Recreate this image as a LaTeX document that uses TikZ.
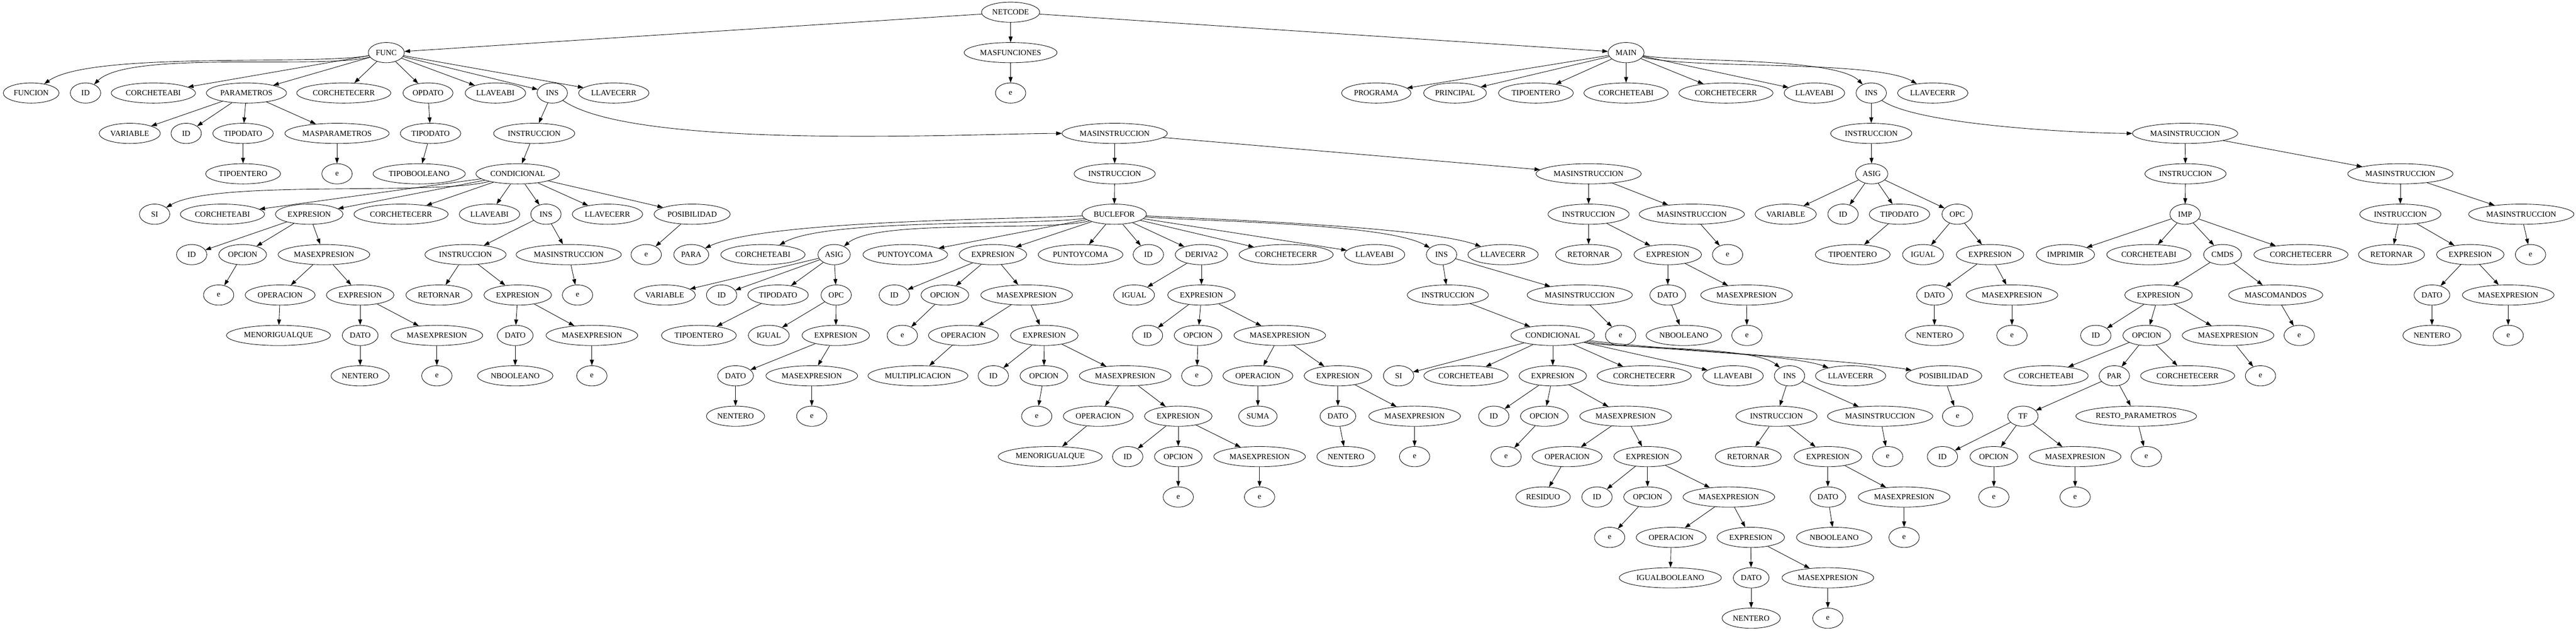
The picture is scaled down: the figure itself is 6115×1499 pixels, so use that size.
\documentclass[tikz,border=0pt]{standalone}
\usepackage{fontspec}
\setmainfont{Liberation Serif}
\usetikzlibrary{arrows.meta,shapes.geometric}
\tikzstyle{vertex}=[ellipse,draw,line width=0.8pt,minimum height=36pt,minimum width=54pt,inner xsep=4pt,inner ysep=2pt,font=\fontsize{14}{16}\selectfont]
\tikzstyle{link} = [draw,line width=0.8pt,-{Triangle[length=10pt,width=7pt]}]
\tikzstyle{curvedlink} = [link,looseness=0.45]

\begin{document}
\begin{tikzpicture}[x=0.75pt,y=-0.75pt]
    \useasboundingbox (0,0) rectangle (6115,1499);
    % Draw the parse tree, one row at a time
    % First we draw the vertices
    \foreach \x/\name/\label in {2399/netcode/NETCODE}
        \node[vertex] (\name) at (\x,29) {\label};
    \foreach \x/\name/\label in {917/func/FUNC, 2399/masfun/MASFUNCIONES, 3860/main/MAIN}
        \node[vertex] (\name) at (\x,125) {\label};
    \foreach \x/\name/\label in {74/fFuncion/FUNCION, 203/fId/ID, 364/fCa/CORCHETEABI, 585/fPar/PARAMETROS, 816/fCc/CORCHETECERR, 1016/fOp/OPDATO, 1176/fLa/LLAVEABI, 1311/fIns/INS, 1457/fLc/LLAVECERR, 2399/mfE/e, 3267/mProg/PROGRAMA, 3454/mPrin/PRINCIPAL, 3646/mTipo/TIPOENTERO, 3860/mCa/CORCHETEABI, 4097/mCc/CORCHETECERR, 4307/mLa/LLAVEABI, 4442/mIns/INS, 4588/mLc/LLAVECERR}
        \node[vertex] (\name) at (\x,221) {\label};
    \foreach \x/\name/\label in {308/pVar/VARIABLE, 442/pId/ID, 577/pTipo/TIPODATO, 800/pMas/MASPARAMETROS, 1022/oTipo/TIPODATO, 1268/fI/INSTRUCCION, 2646/fM/MASINSTRUCCION, 4442/mI/INSTRUCCION, 5187/mM/MASINSTRUCCION}
        \node[vertex] (\name) at (\x,317) {\label};
    \foreach \x/\name/\label in {577/pEnt/TIPOENTERO, 800/pE/e, 995/oBool/TIPOBOOLEANO, 1229/cond/CONDICIONAL, 2646/fMI/INSTRUCCION, 3771/fMM/MASINSTRUCCION, 4443/asig/ASIG, 5188/mMI/INSTRUCCION, 5698/mMM/MASINSTRUCCION}
        \node[vertex] (\name) at (\x,413) {\label};
    \foreach \x/\name/\label in {367/cSi/SI, 528/cCa/CORCHETEABI, 734/cExp/EXPRESION, 952/cCc/CORCHETECERR, 1162/cLa/LLAVEABI, 1296/cIns/INS, 1442/cLc/LLAVECERR, 1643/cPos/POSIBILIDAD, 2645/for/BUCLEFOR, 3771/fMMI/INSTRUCCION, 4016/fMMM/MASINSTRUCCION, 4239/aVar/VARIABLE, 4375/aId/ID, 4509/aTipo/TIPODATO, 4646/aOpc/OPC, 5187/imp/IMP, 5698/mMMI/INSTRUCCION, 5985/mMMM/MASINSTRUCCION}
        \node[vertex] (\name) at (\x,509) {\label};
    \foreach \x/\name/\label in {455/ceId/ID, 576/ceOpc/OPCION, 769/ceMas/MASEXPRESION, 1105/ciI/INSTRUCCION, 1350/ciM/MASINSTRUCCION, 1534/cpE/e, 1641/bPara/PARA, 1811/bCa/CORCHETEABI, 1980/bAsig/ASIG, 2149/bPyc/PUNTOYCOMA, 2357/bExp/EXPRESION, 2565/bPycb/PUNTOYCOMA, 2726/bId/ID, 2852/bDer/DERIVA2, 3053/bCc/CORCHETECERR, 3263/bLa/LLAVEABI, 3422/bIns/INS, 3568/bLc/LLAVECERR, 3771/rRet/RETORNAR, 3959/rExp/EXPRESION, 4101/rE/e, 4398/aEnt/TIPOENTERO, 4565/aIgual/IGUAL, 4724/aExp/EXPRESION, 4903/iImpr/IMPRIMIR, 5101/iCa/CORCHETEABI, 5276/cmds/CMDS, 5462/iCc/CORCHETECERR, 5677/sRet/RETORNAR, 5864/sExp/EXPRESION, 6007/sE/e}
        \node[vertex] (\name) at (\x,605) {\label};
    \foreach \x/\name/\label in {519/ceoE/e, 665/ceOp/OPERACION, 855/ceExp/EXPRESION, 1042/ciRet/RETORNAR, 1229/ciExp/EXPRESION, 1371/cmE/e, 1578/baVar/VARIABLE, 1713/baId/ID, 1847/baTipo/TIPODATO, 1985/baOpc/OPC, 2123/beId/ID, 2243/beOpc/OPCION, 2437/beMas/MASEXPRESION, 2692/bdIgual/IGUAL, 2852/bdExp/EXPRESION, 3437/biI/INSTRUCCION, 3750/biM/MASINSTRUCCION, 3959/reDato/DATO, 4146/reMas/MASEXPRESION, 4592/aeDato/DATO, 4776/aeMas/MASEXPRESION, 5124/xExp/EXPRESION, 5402/xMas/MASCOMANDOS, 5773/sDato/DATO, 5954/sMas/MASEXPRESION}
        \node[vertex] (\name) at (\x,701) {\label};
    \foreach \x/\name/\label in {661/ceMenor/MENORIGUALQUE, 855/ceDato/DATO, 1037/ceMasb/MASEXPRESION, 1223/ciDato/DATO, 1405/ciMas/MASEXPRESION, 1659/baEnt/TIPOENTERO, 1825/baIgual/IGUAL, 1984/baExp/EXPRESION, 2142/beoE/e, 2287/beOp/OPERACION, 2479/beExp/EXPRESION, 2724/bdId/ID, 2844/bdOpc/OPCION, 3038/bdMas/MASEXPRESION, 3686/bcond/CONDICIONAL, 3847/bmE/e, 3997/reBool/NBOOLEANO, 4147/reE/e, 4592/aeEnt/NENTERO, 4776/aeE/e, 4975/xId/ID, 5096/xOpc/OPCION, 5289/xMasb/MASEXPRESION, 5458/xmE/e, 5773/sEnt/NENTERO, 5954/sEb/e}
        \node[vertex] (\name) at (\x,797) {\label};
    \foreach \x/\name/\label in {855/ceEnt/NENTERO, 1037/ceE/e, 1223/ciBool/NBOOLEANO, 1405/ciE/e, 1746/baDato/DATO, 1927/baMas/MASEXPRESION, 2179/beMult/MULTIPLICACION, 2358/beIdb/ID, 2478/beOpcb/OPCION, 2671/beMasb/MASEXPRESION, 2841/bdoE/e, 2986/bdOp/OPERACION, 3176/bdExpb/EXPRESION, 3320/kSi/SI, 3480/kCa/CORCHETEABI, 3686/kExp/EXPRESION, 3903/kCc/CORCHETECERR, 4114/kLa/LLAVEABI, 4248/kIns/INS, 4393/kLc/LLAVECERR, 4614/kPos/POSIBILIDAD, 4857/oCa/CORCHETEABI, 5019/par/PAR, 5193/oCc/CORCHETECERR, 5366/xmEb/e}
        \node[vertex] (\name) at (\x,893) {\label};
    \foreach \x/\name/\label in {1746/baEntb/NENTERO, 1927/baE/e, 2461/beoEb/e, 2607/beOpb/OPERACION, 2797/beExpb/EXPRESION, 2986/bdSuma/SUMA, 3176/bdDato/DATO, 3358/bdMasb/MASEXPRESION, 3546/keId/ID, 3666/keOpc/OPCION, 3859/keMas/MASEXPRESION, 4217/kiI/INSTRUCCION, 4463/kiM/MASINSTRUCCION, 4647/kpE/e, 4802/tf/TF, 5071/resto/RESTO\_PARAMETROS}
        \node[vertex] (\name) at (\x,989) {\label};
    \foreach \x/\name/\label in {2493/beMenor/MENORIGUALQUE, 2677/beIdc/ID, 2797/beOpcc/OPCION, 2990/beMasc/MASEXPRESION, 3195/bdEnt/NENTERO, 3358/bdE/e, 3575/keoE/e, 3720/keOp/OPERACION, 3911/keExp/EXPRESION, 4150/kiRet/RETORNAR, 4339/kiExp/EXPRESION, 4481/kmE/e, 4611/tId/ID, 4733/tOpc/OPCION, 4926/tMas/MASEXPRESION, 5095/rrE/e}
        \node[vertex] (\name) at (\x,1085) {\label};
    \foreach \x/\name/\label in {2797/beoEc/e, 2990/beE/e, 3663/keRes/RESIDUO, 3791/keIdb/ID, 3911/keOpcb/OPCION, 4104/keMasb/MASEXPRESION, 4339/kiDato/DATO, 4520/kiMas/MASEXPRESION, 4733/toE/e, 4926/tmE/e}
        \node[vertex] (\name) at (\x,1181) {\label};
    \foreach \x/\name/\label in {3821/keoEb/e, 3967/keOpb/OPERACION, 4156/keExpb/EXPRESION, 4354/kiBool/NBOOLEANO, 4520/kiE/e}
        \node[vertex] (\name) at (\x,1277) {\label};
    \foreach \x/\name/\label in {3965/keIgual/IGUALBOOLEANO, 4157/keDato/DATO, 4339/keMasc/MASEXPRESION}
        \node[vertex] (\name) at (\x,1373) {\label};
    \foreach \x/\name/\label in {4157/keEnt/NENTERO, 4339/keE/e}
        \node[vertex] (\name) at (\x,1469) {\label};

    % Connect vertices with edges
    \foreach \source/\dest in {netcode/func, netcode/masfun, netcode/main,
        func/fCa, func/fPar, func/fCc, func/fOp, func/fLa, func/fIns, func/fLc, masfun/mfE,
        main/mProg, main/mPrin, main/mTipo, main/mCa, main/mCc, main/mLa,
        fPar/pVar, fPar/pId, fPar/pTipo, fPar/pMas, pTipo/pEnt, pMas/pE, fOp/oTipo, oTipo/oBool,
        fIns/fI, fI/cond, fM/fMI, fM/fMM, mIns/mI, mI/asig, mM/mMI, mM/mMM,
        cond/cCa, cond/cExp, cond/cCc, cond/cLa, cond/cIns, cond/cLc, cond/cPos,
        fMI/for, fMM/fMMI, fMM/fMMM, asig/aVar, asig/aId, asig/aTipo, asig/aOpc,
        mMI/imp, mMM/mMMI, mMM/mMMM,
        cExp/ceId, cExp/ceOpc, cExp/ceMas, cIns/ciI, cIns/ciM, cPos/cpE,
        for/bPyc, for/bExp, for/bPycb, for/bId, for/bDer, for/bCc, for/bLa,
        fMMI/rRet, fMMI/rExp, fMMM/rE, aTipo/aEnt, aOpc/aIgual, aOpc/aExp,
        imp/iImpr, imp/iCa, imp/cmds, imp/iCc, mMMI/sRet, mMMI/sExp, mMMM/sE,
        ceOpc/ceoE, ceMas/ceOp, ceMas/ceExp, ciI/ciRet, ciI/ciExp, ciM/cmE,
        bAsig/baVar, bAsig/baId, bAsig/baTipo, bAsig/baOpc, bExp/beId, bExp/beOpc, bExp/beMas,
        bDer/bdIgual, bDer/bdExp, bIns/biI, bIns/biM, rExp/reDato, rExp/reMas,
        aExp/aeDato, aExp/aeMas, cmds/xExp, cmds/xMas, sExp/sDato, sExp/sMas,
        ceOp/ceMenor, ceExp/ceDato, ceExp/ceMasb, ciExp/ciDato, ciExp/ciMas,
        baTipo/baEnt, baOpc/baIgual, baOpc/baExp, beOpc/beoE, beMas/beOp, beMas/beExp,
        bdExp/bdId, bdExp/bdOpc, bdExp/bdMas, biI/bcond, biM/bmE, reDato/reBool, reMas/reE,
        aeDato/aeEnt, aeMas/aeE, xExp/xId, xExp/xOpc, xExp/xMasb, xMas/xmE, sDato/sEnt, sMas/sEb,
        ceDato/ceEnt, ceMasb/ceE, ciDato/ciBool, ciMas/ciE, baExp/baDato, baExp/baMas,
        beOp/beMult, beExp/beIdb, beExp/beOpcb, beExp/beMasb, bdOpc/bdoE, bdMas/bdOp, bdMas/bdExpb,
        bcond/kSi, bcond/kCa, bcond/kExp, bcond/kCc, bcond/kLa,
        xOpc/oCa, xOpc/par, xOpc/oCc, xMasb/xmEb,
        baDato/baEntb, baMas/baE, beOpcb/beoEb, beMasb/beOpb, beMasb/beExpb,
        bdOp/bdSuma, bdExpb/bdDato, bdExpb/bdMasb, kExp/keId, kExp/keOpc, kExp/keMas,
        kIns/kiI, kIns/kiM, kPos/kpE, par/tf, par/resto,
        beOpb/beMenor, beExpb/beIdc, beExpb/beOpcc, beExpb/beMasc, bdDato/bdEnt, bdMasb/bdE,
        keOpc/keoE, keMas/keOp, keMas/keExp, kiI/kiRet, kiI/kiExp, kiM/kmE,
        tf/tId, tf/tOpc, tf/tMas, resto/rrE, beOpcc/beoEc, beMasc/beE,
        keOp/keRes, keExp/keIdb, keExp/keOpcb, keExp/keMasb, kiExp/kiDato, kiExp/kiMas,
        tOpc/toE, tMas/tmE, keOpcb/keoEb, keMasb/keOpb, keMasb/keExpb, kiDato/kiBool, kiMas/kiE,
        keOpb/keIgual, keExpb/keDato, keExpb/keMasc, keDato/keEnt, keMasc/keE}
        \path[link] (\source) -- (\dest);
    % the long ones bend round the nodes in between
    \foreach \source/\dest/\o/\i in {func/fFuncion/190/35, func/fId/195/45,
        main/mIns/-10/135, main/mLc/-15/150, fIns/fM/-35/180, mIns/mM/-35/180,
        cond/cSi/195/30, for/bPara/183/25, for/bCa/188/30, for/bAsig/195/40,
        for/bIns/-5/150, for/bLc/-3/160, bcond/kIns/-12/140, bcond/kLc/-10/160, bcond/kPos/-8/170}
        \path[curvedlink] (\source) to[out=\o,in=\i] (\dest);
\end{tikzpicture}
\end{document}
